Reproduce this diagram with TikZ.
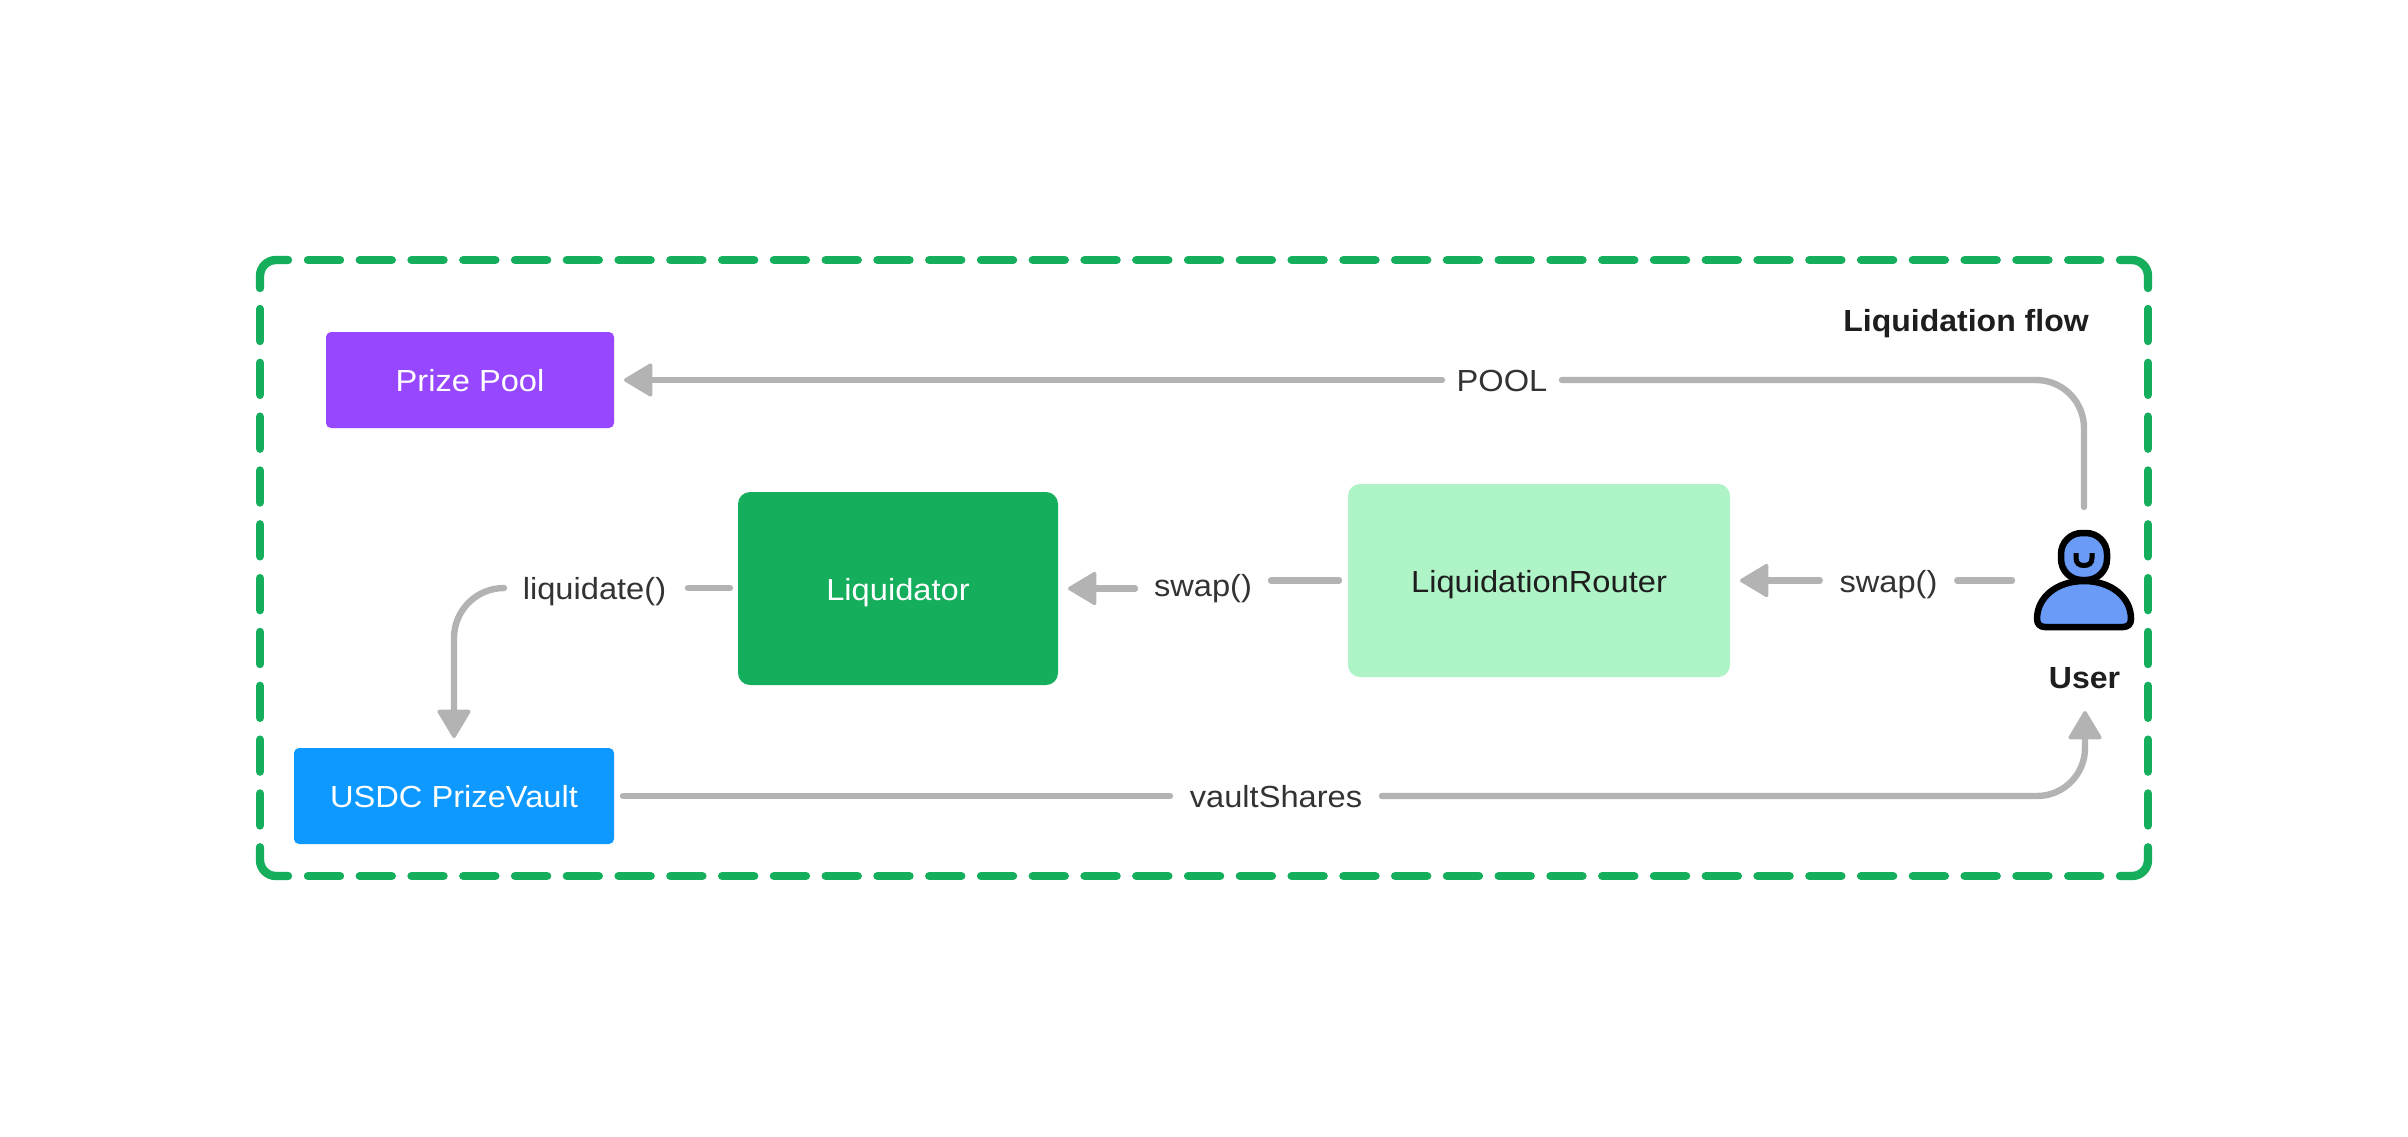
\documentclass[tikz,border=0pt]{standalone}
\usepackage{fontspec}
\setmainfont[FakeStretch=1.07,BoldFeatures={FakeStretch=1.05}]{Liberation Sans}
\usetikzlibrary{arrows.meta}
\definecolor{framegreen}{HTML}{14AE5C}
\definecolor{prizepurple}{HTML}{9747FF}
\definecolor{vaultblue}{HTML}{0D99FF}
\definecolor{routergreen}{HTML}{AFF4C6}
\definecolor{conngray}{HTML}{B3B3B3}
\definecolor{inkdark}{HTML}{1E1E1E}
\definecolor{inklabel}{HTML}{333333}
\definecolor{userblue}{HTML}{699BF7}
\tikzset{
  x=1pt,y=-1pt,
  txt/.style={inner sep=0pt,outer sep=0pt,text height=30pt,text depth=7pt,font=\fontsize{30.5}{36}\selectfont},
  box/.style={txt,align=center},
  smallbox/.style={box,rounded corners=5pt,minimum height=96pt,text=white},
  bigbox/.style={box,rounded corners=12pt,minimum height=193pt},
  lbl/.style={txt,text=inklabel},
  conn/.style={draw=conngray,line width=6.4pt,line cap=round,line join=round},
  arr/.style={conn,-{Triangle[length=30pt,width=35pt,round,line width=3.5pt]},shorten >=10pt},
  framedash/.style={draw=framegreen,line width=8.4pt,line cap=round},
  person/.style={draw=black,line width=6.5pt,line join=round,fill=userblue},
}
\begin{document}
\begin{tikzpicture}
\useasboundingbox (0,0) rectangle (2408,1136);
\fill[white] (0,0) rectangle (2408,1136);

% dashed frame
\draw[framedash,rounded corners=16pt] (260,288) |- (288,260);
\draw[framedash,rounded corners=16pt] (2120,260) -| (2148,288);
\draw[framedash,rounded corners=16pt] (2148,847.3) |- (2120,876);
\draw[framedash,rounded corners=16pt] (288,876) -| (260,847.3);
\draw[framedash,dash pattern=on 32pt off 19.77pt] (308,260) -- (2100.2,260);
\draw[framedash,dash pattern=on 32pt off 19.77pt] (308,876) -- (2100.2,876);
\draw[framedash,dash pattern=on 32pt off 21.83pt] (260,309) -- (260,825.5);
\draw[framedash,dash pattern=on 32pt off 21.83pt] (2148,309) -- (2148,825.5);

% boxes
\node[smallbox,fill=prizepurple,minimum width=288pt] (pool) at (470,380) {Prize Pool};
\node[smallbox,fill=vaultblue,minimum width=320pt] (vault) at (454,796) {USDC PrizeVault};
\node[bigbox,fill=framegreen,text=white,minimum width=320pt] (liq) at (898,588.5) {Liquidator};
\node[bigbox,fill=routergreen,text=inkdark,minimum width=382pt] (router) at (1539,580.5) {LiquidationRouter};

% labels
\node[lbl,minimum width=120pt] (poollbl) at (1502,380) {POOL};
\node[lbl,minimum width=212pt] (vaultlbl) at (1276,796) {vaultShares};
\node[lbl,minimum width=187pt] (liqlbl) at (594.5,588) {liquidate()};
\node[lbl,minimum width=136pt] (swapa) at (1203,585) {swap()};
\node[lbl,minimum width=137.5pt] (swapb) at (1888.5,581) {swap()};
\node[txt,text=inkdark,font=\fontsize{30.5}{36}\selectfont\bfseries] (title) at (1966,320) {Liquidation flow};
\node[txt,text=inkdark,font=\fontsize{30.5}{36}\selectfont\bfseries] (userlbl) at (2084.5,676.5) {User};

% user icon
\draw[person,rounded corners=21pt] (2061,533) rectangle (2107,580);
\draw[person] (2045,627) -- (2123,627) .. controls (2128,627) and (2131,624) .. (2131,619)
  .. controls (2131,597) and (2111,581) .. (2084,581)
  .. controls (2057,581) and (2037,597) .. (2037,619)
  .. controls (2037,624) and (2040,627) .. (2045,627) -- cycle;
\draw[line width=5pt,line cap=butt,draw=black] (2076,553) -- (2076,558) .. controls (2076,563) and (2079,565.5) .. (2084,565.5) .. controls (2089,565.5) and (2092,563) .. (2092,558) -- (2092,553);

% free ends
\coordinate (usertop) at (2084,507);
\coordinate (userleft) at (2012,580.5);
\coordinate (userbottom) at (2085,711);

% connectors
\draw[conn,rounded corners=48pt] (usertop) |- (poollbl.east);
\draw[arr] (poollbl.west) -- (pool.east);
\draw[conn] (userleft) -- (swapb.east |- userleft);
\draw[arr] (swapb.west |- router.east) -- (router.east);
\draw[conn,shorten >=9pt] (swapa.east |- router.west) -- (router.west);
\draw[arr] (swapa.west |- liq.east) -- (liq.east);
\draw[conn,shorten >=8pt] (liqlbl.east) -- (liq.west |- liqlbl.east);
\draw[arr,rounded corners=50pt] (liqlbl.west) -| (vault.north);
\draw[conn,shorten <=9pt] (vault.east) -- (vaultlbl.west);
\draw[arr,rounded corners=48pt,shorten >=0pt] (vaultlbl.east) -| (userbottom);
\end{tikzpicture}
\end{document}
